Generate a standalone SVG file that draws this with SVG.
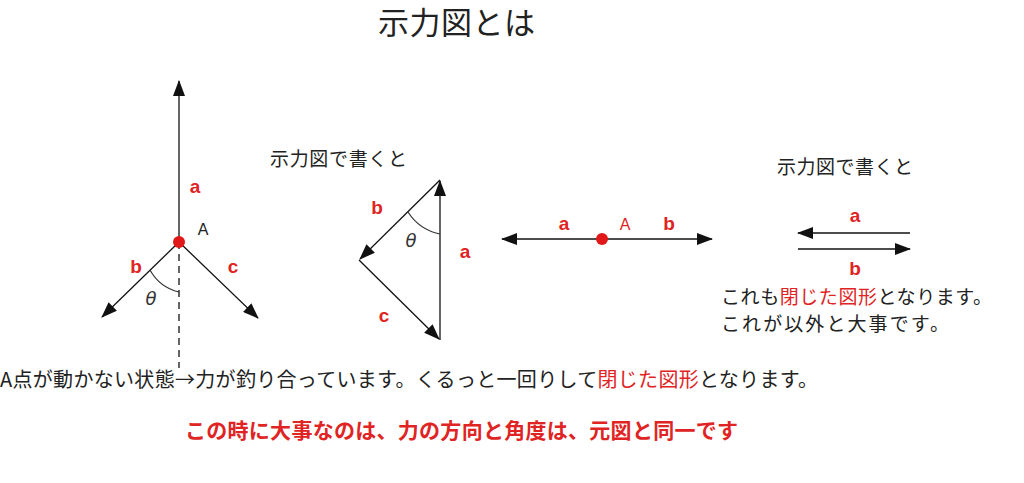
<svg xmlns="http://www.w3.org/2000/svg" width="1024" height="483" viewBox="0 0 1024 483">
<style>
.jp{font-family:"Noto Sans CJK JP","Noto Sans",sans-serif;fill:#222}
.red{fill:#e02424}
.lbl{font-family:"Liberation Sans",Arial,sans-serif;font-weight:bold;font-size:19px;fill:#e02424;text-anchor:middle}
.pt{font-family:"Liberation Sans",Arial,sans-serif;font-size:16px;text-anchor:middle}
.th{font-family:"DejaVu Sans",sans-serif;font-style:italic;font-size:18px;fill:#333;text-anchor:middle}
.ln{stroke:#111;stroke-width:1.3;fill:none}
.arc{stroke:#333;stroke-width:1.2;fill:none}
</style>
<defs>
<marker id="ah" markerUnits="userSpaceOnUse" markerWidth="16" markerHeight="12" refX="15" refY="6" orient="auto">
<path d="M0,0 L16,6 L0,12 Z" fill="#111"/>
</marker>
</defs>
<rect width="1024" height="483" fill="#fff"/>

<text class="jp" x="378" y="34" font-size="31" textLength="157">示力図とは</text>

<g id="connectors">
<line class="ln" x1="179" y1="242" x2="179" y2="81" marker-end="url(#ah)"/>
<line class="ln" x1="179" y1="242" x2="102" y2="317" marker-end="url(#ah)"/>
<line class="ln" x1="179" y1="242" x2="258" y2="318" marker-end="url(#ah)"/>
<line class="ln" x1="179" y1="242" x2="179" y2="368" stroke-dasharray="7,5"/>
<path class="arc" d="M150,270 A45 45 0 0 0 179,292"/>

<line class="ln" x1="440" y1="340" x2="440" y2="181" marker-end="url(#ah)"/>
<line class="ln" x1="440" y1="180" x2="360" y2="259" marker-end="url(#ah)"/>
<line class="ln" x1="359" y1="260" x2="439" y2="339" marker-end="url(#ah)"/>
<path class="arc" d="M408,212 A50 50 0 0 0 440,234"/>

<line class="ln" x1="602" y1="239" x2="502" y2="239" marker-end="url(#ah)"/>
<line class="ln" x1="602" y1="239" x2="712" y2="239" marker-end="url(#ah)"/>

<line class="ln" x1="910" y1="233" x2="798" y2="233" marker-end="url(#ah)"/>
<line class="ln" x1="798" y1="249" x2="910" y2="249" marker-end="url(#ah)"/>
</g>

<g id="nodeA1">
<circle cx="179" cy="242" r="6" fill="#e01818"/>
<text class="pt" x="203" y="235" fill="#222">A</text>
</g>
<g id="labels-left">
<text class="lbl" x="195" y="193">a</text>
<text class="lbl" x="136" y="273">b</text>
<text class="lbl" x="233" y="273">c</text>
<text class="th" x="151" y="305">θ</text>
</g>

<g id="triangle">
<text class="jp" x="270" y="166" font-size="19" textLength="137">示力図で書くと</text>
<text class="lbl" x="377" y="214">b</text>
<text class="th" x="411" y="247">θ</text>
<text class="lbl" x="465" y="258">a</text>
<text class="lbl" x="384" y="322">c</text>
</g>

<g id="nodeA2">
<circle cx="602" cy="239" r="6" fill="#e01818"/>
<text class="pt red" x="625" y="230">A</text>
<text class="lbl" x="564" y="230">a</text>
<text class="lbl" x="669" y="230">b</text>
</g>

<g id="right">
<text class="jp" x="777" y="174" font-size="19" textLength="136">示力図で書くと</text>
<text class="lbl" x="855" y="222">a</text>
<text class="lbl" x="855" y="275">b</text>
<text class="jp" x="721" y="304" font-size="19" textLength="271">これも<tspan class="red">閉じた図形</tspan>となります。</text>
<text class="jp" x="721" y="331" font-size="19" textLength="228">これが以外と大事です。</text>
</g>

<g id="notes">
<text class="jp" x="0" y="387" font-size="20" textLength="818">A点が動かない状態→力が釣り合っています。くるっと一回りして<tspan class="red">閉じた図形</tspan>となります。</text>
<text class="jp red" x="185" y="438" font-size="21" font-weight="bold" textLength="553">この時に大事なのは、力の方向と角度は、元図と同一です</text>
</g>
</svg>
